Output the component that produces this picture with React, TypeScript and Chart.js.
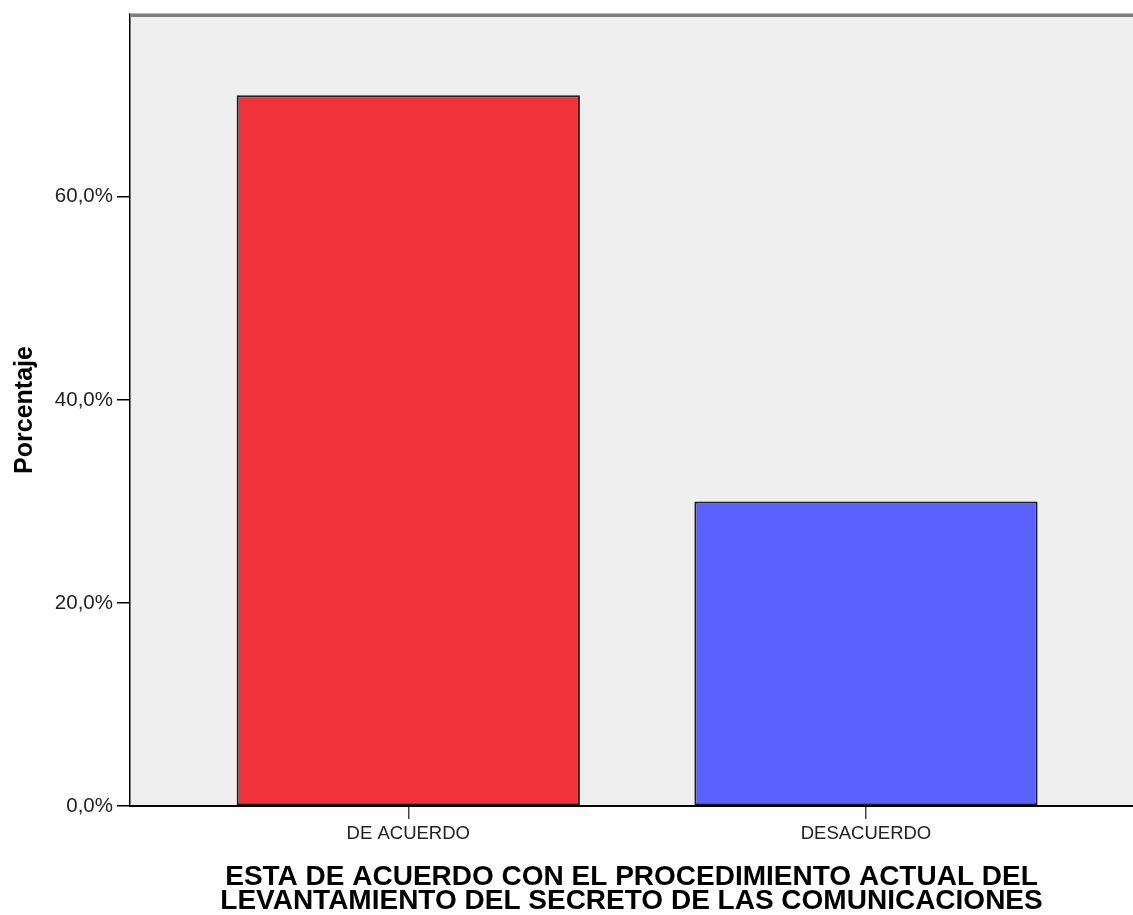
import React, { useEffect, useRef } from 'react';
import { Chart, registerables } from 'chart.js';

Chart.register(...registerables);

// Response categories and their share of answers (%)
const categories = ['DE ACUERDO', 'DESACUERDO'];
const percentages = [70.0, 30.0];
const barColors = ['#F0323A', '#5B62FF'];

// Axis ticks and titles
const yTickValues = [0, 20, 40, 60];
const yTitle = 'Porcentaje';
const xTitleLines = [
  'ESTA DE ACUERDO CON EL PROCEDIMIENTO ACTUAL DEL',
  'LEVANTAMIENTO DEL SECRETO DE LAS COMUNICACIONES',
];

const FONT = "'Liberation Sans', Arial, Helvetica, sans-serif";

// Grey plot background plus the grey frame line along the top
const plotFrame = {
  id: 'plotFrame',
  beforeDraw(chart: any) {
    const { ctx, chartArea } = chart;
    ctx.save();
    ctx.fillStyle = '#EFEFEF';
    ctx.fillRect(chartArea.left, chartArea.top, chartArea.right - chartArea.left, chartArea.bottom - chartArea.top);
    ctx.restore();
  },
  afterDraw(chart: any) {
    const { ctx, chartArea } = chart;
    ctx.save();
    ctx.fillStyle = '#B8B8B8';
    ctx.fillRect(chartArea.left, chartArea.top - 1, chartArea.right - chartArea.left, 1);
    ctx.fillStyle = '#7E7E7E';
    ctx.fillRect(chartArea.left, chartArea.top, chartArea.right - chartArea.left, 3);
    ctx.restore();
  },
};

export default function App() {
  const canvasRef = useRef<HTMLCanvasElement | null>(null);

  useEffect(() => {
    const canvas = canvasRef.current;
    if (!canvas) return;

    const points = categories.map((_, i) => ({ x: i + 1, y: percentages[i] }));

    const chart = new Chart(canvas, {
      type: 'bar',
      data: {
        datasets: [
          {
            data: points as any,
            backgroundColor: barColors,
            borderColor: '#1E1E1E',
            borderWidth: 2,
            borderSkipped: false,
            barPercentage: 0.75,
            categoryPercentage: 1,
          },
        ],
      },
      plugins: [plotFrame],
      options: {
        responsive: false,
        animation: false,
        devicePixelRatio: 1,
        layout: { padding: { top: 14, right: 0, bottom: 0, left: 0 } },
        plugins: {
          legend: { display: false },
          tooltip: { enabled: false },
        },
        scales: {
          x: {
            type: 'linear',
            min: 0.392,
            max: 2.5834,
            offset: false,
            afterBuildTicks: (scale: any) => {
              scale.ticks = categories.map((_, i) => ({ value: i + 1 }));
            },
            afterFit: (scale: any) => {
              scale.height = 109;
              scale.paddingLeft = 0;
              scale.paddingRight = 0;
            },
            grid: {
              display: true,
              offset: false,
              drawOnChartArea: false,
              drawTicks: true,
              tickLength: 13,
              tickColor: '#444',
              lineWidth: 1.5,
            },
            border: { display: true, color: '#000', width: 2 },
            ticks: {
              autoSkip: false,
              maxRotation: 0,
              padding: 4,
              color: '#222',
              font: { family: FONT, size: 18.5 },
              callback: (v: any) => categories[Math.round(Number(v)) - 1] ?? '',
            },
            title: {
              display: true,
              text: xTitleLines,
              color: '#000',
              font: { family: FONT, size: 28, weight: 'bold', lineHeight: '24.5px' },
              padding: { top: 0, bottom: 1 },
            },
          },
          y: {
            min: 0,
            max: 78,
            afterBuildTicks: (scale: any) => {
              scale.ticks = yTickValues.map((v) => ({ value: v }));
            },
            afterFit: (scale: any) => {
              scale.width = 130;
              scale.paddingTop = 0;
              scale.paddingBottom = 0;
            },
            grid: {
              display: true,
              drawOnChartArea: false,
              drawTicks: true,
              tickLength: 13,
              tickColor: '#000',
              lineWidth: 1.5,
            },
            border: { display: true, color: '#000', width: 1.5 },
            ticks: {
              padding: 4,
              color: '#222',
              font: { family: FONT, size: 20.5 },
              callback: (v: any) => Number(v).toFixed(1).replace('.', ',') + '%',
            },
            title: {
              display: true,
              text: yTitle,
              color: '#000',
              font: { family: FONT, size: 25, weight: 'bold' },
              padding: { top: 10, bottom: 0 },
            },
          },
        },
      },
    } as any);

    return () => chart.destroy();
  }, []);

  return (
    <div style={{ position: 'fixed', left: 0, top: 0, width: 1133, height: 915, background: '#fff' }}>
      <canvas ref={canvasRef} width={1133} height={915} />
    </div>
  );
}
